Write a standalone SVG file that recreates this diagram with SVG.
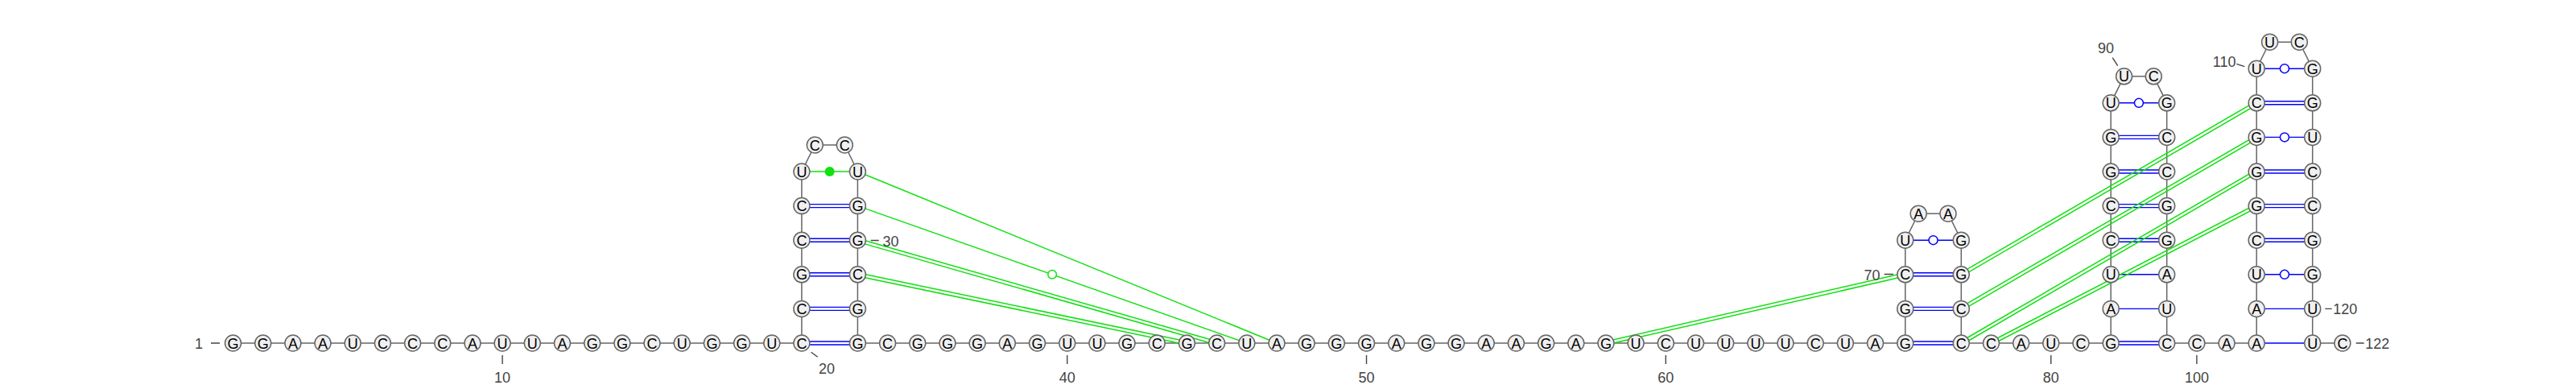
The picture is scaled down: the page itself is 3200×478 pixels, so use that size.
<svg xmlns="http://www.w3.org/2000/svg" width="3200" height="478" viewBox="0 0 3200 478">
<style>
.bb{fill:none;stroke:#666;stroke-width:1.5}
.bp{stroke:#0000ff;stroke-width:1.4;fill:none}
.wob{fill:#fff;stroke:#0000ff;stroke-width:1.5}
.pk{stroke:#11e011;stroke-width:1.5;fill:none}
.pkc{fill:#fff;stroke:#11e011;stroke-width:1.5}
.pkf{fill:#11e011;stroke:none}
.n circle{fill:#f0f0f0;stroke:#666;stroke-width:1.5}
.n text{font-family:"Liberation Sans",Arial,sans-serif;font-size:18px;text-anchor:middle;fill:#000}
.lbl{font-family:"Liberation Sans",Arial,sans-serif;font-size:18px;fill:#444}
.tk{stroke:#444;stroke-width:1.4}
</style>
<rect width="3200" height="478" fill="#fff"/>
<g id="connectors">
<path class="bb" d="M289.5 426 H995.9 V213 L1012.3 180 L1049.3 180 L1065.4 213 V426 H2366.8 V298.2 L2383.2 265.2 L2420 265.2 L2436.3 298.2 V426 H2622.2 V127.8 L2638.6 94.8 L2675.3 94.8 L2691.7 127.8 V426 H2803.2 V85.2 L2819.6 52.2 L2856.3 52.2 L2872.7 85.2 V426 H2909.9"/>
<g id="pairs">
<path class="bp" d="M995.9 424H1065.4M995.9 428H1065.4 M995.9 381.4H1065.4M995.9 385.4H1065.4 M995.9 338.8H1065.4M995.9 342.8H1065.4 M995.9 296.2H1065.4M995.9 300.2H1065.4 M995.9 253.6H1065.4M995.9 257.6H1065.4"/>
<path class="bp" d="M2366.8 424H2436.3M2366.8 428H2436.3 M2366.8 381.4H2436.3M2366.8 385.4H2436.3 M2366.8 338.8H2436.3M2366.8 342.8H2436.3 M2366.8 298.2H2436.3"/>
<circle class="wob" cx="2401.55" cy="298.2" r="5.5"/>
<path class="bp" d="M2622.2 424H2691.7M2622.2 428H2691.7 M2622.2 383.4H2691.7 M2622.2 340.8H2691.7 M2622.2 296.2H2691.7M2622.2 300.2H2691.7 M2622.2 253.6H2691.7M2622.2 257.6H2691.7 M2622.2 211H2691.7M2622.2 215H2691.7 M2622.2 168.4H2691.7M2622.2 172.4H2691.7 M2622.2 127.8H2691.7"/>
<circle class="wob" cx="2656.95" cy="127.8" r="5.5"/>
<path class="bp" d="M2803.2 426H2872.7 M2803.2 383.4H2872.7 M2803.2 340.8H2872.7 M2803.2 296.2H2872.7M2803.2 300.2H2872.7 M2803.2 253.6H2872.7M2803.2 257.6H2872.7 M2803.2 211H2872.7M2803.2 215H2872.7 M2803.2 170.4H2872.7 M2803.2 125.8H2872.7M2803.2 129.8H2872.7 M2803.2 85.2H2872.7"/>
<circle class="wob" cx="2837.95" cy="340.8" r="5.5"/>
<circle class="wob" cx="2837.95" cy="170.4" r="5.5"/>
<circle class="wob" cx="2837.95" cy="85.2" r="5.5"/>
</g>
<g id="pseudoknots">
<path class="pk" d="M995.9 213H1065.4"/>
<circle class="pkf" cx="1030.65" cy="213" r="6"/>
<path class="pk" d="M1065.4 213L1586 426"/>
<path class="pk" d="M1065.4 255.6L1548.8 426"/>
<circle class="pkc" cx="1307.1" cy="340.8" r="5.3"/>
<path class="pk" d="M1064.85 300.12L1511.05 427.92M1065.95 296.28L1512.15 424.08"/>
<path class="pk" d="M1064.99 342.76L1473.99 427.96M1065.81 338.84L1474.81 424.04"/>
<path class="pk" d="M1995.45 427.95L2367.25 342.75M1994.55 424.05L2366.35 338.85"/>
<path class="pk" d="M2437.3 342.53L2804.2 129.53M2435.3 339.07L2802.2 126.07"/>
<path class="pk" d="M2437.3 385.13L2804.2 172.13M2435.3 381.67L2802.2 168.67"/>
<path class="pk" d="M2437.3 427.73L2804.2 214.73M2435.3 424.27L2802.2 211.27"/>
<path class="pk" d="M2474.42 427.78L2804.12 257.38M2472.58 424.22L2802.28 253.82"/>
</g>
</g>
<g id="nodes" class="n">
<g id="n1" transform="translate(289.5,426)"><circle r="10"/><text y="6.5">G</text></g>
<g id="n2" transform="translate(326.7,426)"><circle r="10"/><text y="6.5">G</text></g>
<g id="n3" transform="translate(363.9,426)"><circle r="10"/><text y="6.5">A</text></g>
<g id="n4" transform="translate(401,426)"><circle r="10"/><text y="6.5">A</text></g>
<g id="n5" transform="translate(438.2,426)"><circle r="10"/><text y="6.5">U</text></g>
<g id="n6" transform="translate(475.4,426)"><circle r="10"/><text y="6.5">C</text></g>
<g id="n7" transform="translate(512.6,426)"><circle r="10"/><text y="6.5">C</text></g>
<g id="n8" transform="translate(549.8,426)"><circle r="10"/><text y="6.5">C</text></g>
<g id="n9" transform="translate(587,426)"><circle r="10"/><text y="6.5">A</text></g>
<g id="n10" transform="translate(624.1,426)"><circle r="10"/><text y="6.5">U</text></g>
<g id="n11" transform="translate(661.3,426)"><circle r="10"/><text y="6.5">U</text></g>
<g id="n12" transform="translate(698.5,426)"><circle r="10"/><text y="6.5">A</text></g>
<g id="n13" transform="translate(735.7,426)"><circle r="10"/><text y="6.5">G</text></g>
<g id="n14" transform="translate(772.9,426)"><circle r="10"/><text y="6.5">G</text></g>
<g id="n15" transform="translate(810,426)"><circle r="10"/><text y="6.5">C</text></g>
<g id="n16" transform="translate(847.2,426)"><circle r="10"/><text y="6.5">U</text></g>
<g id="n17" transform="translate(884.4,426)"><circle r="10"/><text y="6.5">G</text></g>
<g id="n18" transform="translate(921.6,426)"><circle r="10"/><text y="6.5">G</text></g>
<g id="n19" transform="translate(958.8,426)"><circle r="10"/><text y="6.5">U</text></g>
<g id="n20" transform="translate(995.9,426)"><circle r="10"/><text y="6.5">C</text></g>
<g id="n21" transform="translate(995.9,383.4)"><circle r="10"/><text y="6.5">C</text></g>
<g id="n22" transform="translate(995.9,340.8)"><circle r="10"/><text y="6.5">G</text></g>
<g id="n23" transform="translate(995.9,298.2)"><circle r="10"/><text y="6.5">C</text></g>
<g id="n24" transform="translate(995.9,255.6)"><circle r="10"/><text y="6.5">C</text></g>
<g id="n25" transform="translate(995.9,213)"><circle r="10"/><text y="6.5">U</text></g>
<g id="n26" transform="translate(1012.3,180)"><circle r="10"/><text y="6.5">C</text></g>
<g id="n27" transform="translate(1049.3,180)"><circle r="10"/><text y="6.5">C</text></g>
<g id="n28" transform="translate(1065.4,213)"><circle r="10"/><text y="6.5">U</text></g>
<g id="n29" transform="translate(1065.4,255.6)"><circle r="10"/><text y="6.5">G</text></g>
<g id="n30" transform="translate(1065.4,298.2)"><circle r="10"/><text y="6.5">G</text></g>
<g id="n31" transform="translate(1065.4,340.8)"><circle r="10"/><text y="6.5">C</text></g>
<g id="n32" transform="translate(1065.4,383.4)"><circle r="10"/><text y="6.5">G</text></g>
<g id="n33" transform="translate(1065.4,426)"><circle r="10"/><text y="6.5">G</text></g>
<g id="n34" transform="translate(1102.6,426)"><circle r="10"/><text y="6.5">C</text></g>
<g id="n35" transform="translate(1139.8,426)"><circle r="10"/><text y="6.5">G</text></g>
<g id="n36" transform="translate(1177,426)"><circle r="10"/><text y="6.5">G</text></g>
<g id="n37" transform="translate(1214.1,426)"><circle r="10"/><text y="6.5">G</text></g>
<g id="n38" transform="translate(1251.3,426)"><circle r="10"/><text y="6.5">A</text></g>
<g id="n39" transform="translate(1288.5,426)"><circle r="10"/><text y="6.5">G</text></g>
<g id="n40" transform="translate(1325.7,426)"><circle r="10"/><text y="6.5">U</text></g>
<g id="n41" transform="translate(1362.9,426)"><circle r="10"/><text y="6.5">U</text></g>
<g id="n42" transform="translate(1400,426)"><circle r="10"/><text y="6.5">G</text></g>
<g id="n43" transform="translate(1437.2,426)"><circle r="10"/><text y="6.5">C</text></g>
<g id="n44" transform="translate(1474.4,426)"><circle r="10"/><text y="6.5">G</text></g>
<g id="n45" transform="translate(1511.6,426)"><circle r="10"/><text y="6.5">C</text></g>
<g id="n46" transform="translate(1548.8,426)"><circle r="10"/><text y="6.5">U</text></g>
<g id="n47" transform="translate(1586,426)"><circle r="10"/><text y="6.5">A</text></g>
<g id="n48" transform="translate(1623.1,426)"><circle r="10"/><text y="6.5">G</text></g>
<g id="n49" transform="translate(1660.3,426)"><circle r="10"/><text y="6.5">G</text></g>
<g id="n50" transform="translate(1697.5,426)"><circle r="10"/><text y="6.5">G</text></g>
<g id="n51" transform="translate(1734.7,426)"><circle r="10"/><text y="6.5">A</text></g>
<g id="n52" transform="translate(1771.9,426)"><circle r="10"/><text y="6.5">G</text></g>
<g id="n53" transform="translate(1809,426)"><circle r="10"/><text y="6.5">G</text></g>
<g id="n54" transform="translate(1846.2,426)"><circle r="10"/><text y="6.5">A</text></g>
<g id="n55" transform="translate(1883.4,426)"><circle r="10"/><text y="6.5">A</text></g>
<g id="n56" transform="translate(1920.6,426)"><circle r="10"/><text y="6.5">G</text></g>
<g id="n57" transform="translate(1957.8,426)"><circle r="10"/><text y="6.5">A</text></g>
<g id="n58" transform="translate(1995,426)"><circle r="10"/><text y="6.5">G</text></g>
<g id="n59" transform="translate(2032.1,426)"><circle r="10"/><text y="6.5">U</text></g>
<g id="n60" transform="translate(2069.3,426)"><circle r="10"/><text y="6.5">C</text></g>
<g id="n61" transform="translate(2106.5,426)"><circle r="10"/><text y="6.5">U</text></g>
<g id="n62" transform="translate(2143.7,426)"><circle r="10"/><text y="6.5">U</text></g>
<g id="n63" transform="translate(2180.9,426)"><circle r="10"/><text y="6.5">U</text></g>
<g id="n64" transform="translate(2218,426)"><circle r="10"/><text y="6.5">U</text></g>
<g id="n65" transform="translate(2255.2,426)"><circle r="10"/><text y="6.5">C</text></g>
<g id="n66" transform="translate(2292.4,426)"><circle r="10"/><text y="6.5">U</text></g>
<g id="n67" transform="translate(2329.6,426)"><circle r="10"/><text y="6.5">A</text></g>
<g id="n68" transform="translate(2366.8,426)"><circle r="10"/><text y="6.5">G</text></g>
<g id="n69" transform="translate(2366.8,383.4)"><circle r="10"/><text y="6.5">G</text></g>
<g id="n70" transform="translate(2366.8,340.8)"><circle r="10"/><text y="6.5">C</text></g>
<g id="n71" transform="translate(2366.8,298.2)"><circle r="10"/><text y="6.5">U</text></g>
<g id="n72" transform="translate(2383.2,265.2)"><circle r="10"/><text y="6.5">A</text></g>
<g id="n73" transform="translate(2420,265.2)"><circle r="10"/><text y="6.5">A</text></g>
<g id="n74" transform="translate(2436.3,298.2)"><circle r="10"/><text y="6.5">G</text></g>
<g id="n75" transform="translate(2436.3,340.8)"><circle r="10"/><text y="6.5">G</text></g>
<g id="n76" transform="translate(2436.3,383.4)"><circle r="10"/><text y="6.5">C</text></g>
<g id="n77" transform="translate(2436.3,426)"><circle r="10"/><text y="6.5">C</text></g>
<g id="n78" transform="translate(2473.5,426)"><circle r="10"/><text y="6.5">C</text></g>
<g id="n79" transform="translate(2510.7,426)"><circle r="10"/><text y="6.5">A</text></g>
<g id="n80" transform="translate(2547.8,426)"><circle r="10"/><text y="6.5">U</text></g>
<g id="n81" transform="translate(2585,426)"><circle r="10"/><text y="6.5">C</text></g>
<g id="n82" transform="translate(2622.2,426)"><circle r="10"/><text y="6.5">G</text></g>
<g id="n83" transform="translate(2622.2,383.4)"><circle r="10"/><text y="6.5">A</text></g>
<g id="n84" transform="translate(2622.2,340.8)"><circle r="10"/><text y="6.5">U</text></g>
<g id="n85" transform="translate(2622.2,298.2)"><circle r="10"/><text y="6.5">C</text></g>
<g id="n86" transform="translate(2622.2,255.6)"><circle r="10"/><text y="6.5">C</text></g>
<g id="n87" transform="translate(2622.2,213)"><circle r="10"/><text y="6.5">G</text></g>
<g id="n88" transform="translate(2622.2,170.4)"><circle r="10"/><text y="6.5">G</text></g>
<g id="n89" transform="translate(2622.2,127.8)"><circle r="10"/><text y="6.5">U</text></g>
<g id="n90" transform="translate(2638.6,94.8)"><circle r="10"/><text y="6.5">U</text></g>
<g id="n91" transform="translate(2675.3,94.8)"><circle r="10"/><text y="6.5">C</text></g>
<g id="n92" transform="translate(2691.7,127.8)"><circle r="10"/><text y="6.5">G</text></g>
<g id="n93" transform="translate(2691.7,170.4)"><circle r="10"/><text y="6.5">C</text></g>
<g id="n94" transform="translate(2691.7,213)"><circle r="10"/><text y="6.5">C</text></g>
<g id="n95" transform="translate(2691.7,255.6)"><circle r="10"/><text y="6.5">G</text></g>
<g id="n96" transform="translate(2691.7,298.2)"><circle r="10"/><text y="6.5">G</text></g>
<g id="n97" transform="translate(2691.7,340.8)"><circle r="10"/><text y="6.5">A</text></g>
<g id="n98" transform="translate(2691.7,383.4)"><circle r="10"/><text y="6.5">U</text></g>
<g id="n99" transform="translate(2691.7,426)"><circle r="10"/><text y="6.5">C</text></g>
<g id="n100" transform="translate(2728.9,426)"><circle r="10"/><text y="6.5">C</text></g>
<g id="n101" transform="translate(2766.1,426)"><circle r="10"/><text y="6.5">A</text></g>
<g id="n102" transform="translate(2803.2,426)"><circle r="10"/><text y="6.5">A</text></g>
<g id="n103" transform="translate(2803.2,383.4)"><circle r="10"/><text y="6.5">A</text></g>
<g id="n104" transform="translate(2803.2,340.8)"><circle r="10"/><text y="6.5">U</text></g>
<g id="n105" transform="translate(2803.2,298.2)"><circle r="10"/><text y="6.5">C</text></g>
<g id="n106" transform="translate(2803.2,255.6)"><circle r="10"/><text y="6.5">G</text></g>
<g id="n107" transform="translate(2803.2,213)"><circle r="10"/><text y="6.5">G</text></g>
<g id="n108" transform="translate(2803.2,170.4)"><circle r="10"/><text y="6.5">G</text></g>
<g id="n109" transform="translate(2803.2,127.8)"><circle r="10"/><text y="6.5">C</text></g>
<g id="n110" transform="translate(2803.2,85.2)"><circle r="10"/><text y="6.5">U</text></g>
<g id="n111" transform="translate(2819.6,52.2)"><circle r="10"/><text y="6.5">U</text></g>
<g id="n112" transform="translate(2856.3,52.2)"><circle r="10"/><text y="6.5">C</text></g>
<g id="n113" transform="translate(2872.7,85.2)"><circle r="10"/><text y="6.5">G</text></g>
<g id="n114" transform="translate(2872.7,127.8)"><circle r="10"/><text y="6.5">G</text></g>
<g id="n115" transform="translate(2872.7,170.4)"><circle r="10"/><text y="6.5">U</text></g>
<g id="n116" transform="translate(2872.7,213)"><circle r="10"/><text y="6.5">C</text></g>
<g id="n117" transform="translate(2872.7,255.6)"><circle r="10"/><text y="6.5">C</text></g>
<g id="n118" transform="translate(2872.7,298.2)"><circle r="10"/><text y="6.5">G</text></g>
<g id="n119" transform="translate(2872.7,340.8)"><circle r="10"/><text y="6.5">G</text></g>
<g id="n120" transform="translate(2872.7,383.4)"><circle r="10"/><text y="6.5">U</text></g>
<g id="n121" transform="translate(2872.7,426)"><circle r="10"/><text y="6.5">U</text></g>
<g id="n122" transform="translate(2909.9,426)"><circle r="10"/><text y="6.5">C</text></g>
</g>
<g id="labels">
<path class="tk" d="M262 426H273 M624.1 441V452 M1007.7 437.3L1015.7 443.3 M1081.7 298.5H1091.7 M1325.7 441V452 M1697.5 441V452 M2069.3 441V452 M2340.7 340.5H2352 M2547.8 441V452 M2624.3 71.7L2630.7 81.7 M2728.9 441V452 M2778.3 79.3L2788.3 82.7 M2888.3 383.4H2896.7 M2926.7 426H2936.7"/>
<text class="lbl" x="247" y="433" text-anchor="middle">1</text>
<text class="lbl" x="624.1" y="475" text-anchor="middle">10</text>
<text class="lbl" x="1027" y="463.5" text-anchor="middle">20</text>
<text class="lbl" x="1096.5" y="305.5">30</text>
<text class="lbl" x="1325.7" y="475" text-anchor="middle">40</text>
<text class="lbl" x="1697.5" y="475" text-anchor="middle">50</text>
<text class="lbl" x="2069.3" y="475" text-anchor="middle">60</text>
<text class="lbl" x="2335.5" y="347.5" text-anchor="end">70</text>
<text class="lbl" x="2547.8" y="475" text-anchor="middle">80</text>
<text class="lbl" x="2616" y="66" text-anchor="middle">90</text>
<text class="lbl" x="2728.9" y="475" text-anchor="middle">100</text>
<text class="lbl" x="2777.5" y="83.3" text-anchor="end">110</text>
<text class="lbl" x="2898.3" y="390">120</text>
<text class="lbl" x="2938.3" y="433">122</text>
</g>
</svg>
